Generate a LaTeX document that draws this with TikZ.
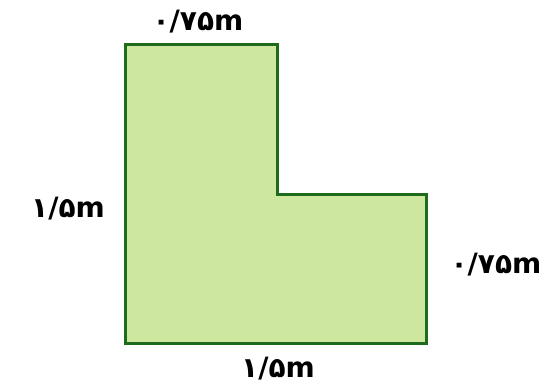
\documentclass[tikz,border=0pt]{standalone}
\usepackage{fontspec}
\newfontfamily\farsifont[Script=Arabic]{DejaVu Sans}
\definecolor{lawn}{HTML}{CDE89E}
\definecolor{hedge}{HTML}{1E6B1E}
\tikzset{
  lab/.style={font=\farsifont\bfseries\fontsize{28}{28}\selectfont, inner sep=1pt}
}
\begin{document}
\begin{tikzpicture}[x=1pt,y=-1pt]
    \useasboundingbox (0,0) rectangle (557,389);
    % L-shaped plot
    \draw[line width=3pt,hedge,fill=lawn] (125,44) -- (277,44) -- (277,194) -- (426,194)
        -- (426,343) -- (125,343) -- cycle;
    % side lengths
    \node[lab] (top) at (198,22) {۰/۷۵m};
    \node[lab] (left) at (68,209) {۱/۵m};
    \node[lab] (right) at (496,265) {۰/۷۵m};
    \node[lab] (bottom) at (278,369) {۱/۵m};
\end{tikzpicture}
\end{document}
